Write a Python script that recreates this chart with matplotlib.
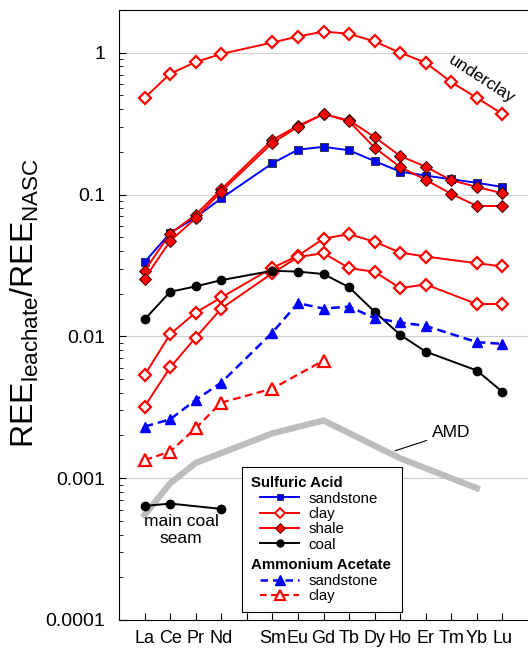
import matplotlib
matplotlib.use('Agg')
import matplotlib.pyplot as plt
from matplotlib.lines import Line2D
from matplotlib.offsetbox import DrawingArea

plt.rcParams['font.family'] = ['Liberation Sans', 'DejaVu Sans']
plt.rcParams['mathtext.fontset'] = 'custom'
plt.rcParams['mathtext.rm'] = 'Liberation Sans'

# Pm is not measured; None = no value, line is joined across the gap
elements = ['La', 'Ce', 'Pr', 'Nd', 'Pm', 'Sm', 'Eu', 'Gd', 'Tb', 'Dy', 'Ho', 'Er', 'Tm', 'Yb', 'Lu']

# sulfuric acid leachates
underclay = [0.48, 0.71, 0.86, 0.98, None, 1.18, 1.30, 1.41, 1.36, 1.20, 1.00, 0.85, 0.62, 0.48, 0.37]
sa_sandstone = [0.0334, 0.0535, 0.069, 0.094, None, 0.166, 0.207, 0.217, 0.205, 0.172, 0.145, 0.136, 0.128, 0.121, 0.113]
sa_clay1 = [0.00532, 0.01035, 0.0147, 0.0188, None, 0.0304, 0.037, 0.0488, 0.0526, 0.0464, 0.039, 0.0365, None, 0.0328, 0.0311]
sa_clay2 = [0.0032, 0.00603, 0.0098, 0.0157, None, 0.0279, 0.0362, 0.0386, 0.0303, 0.0285, 0.0219, 0.0232, None, 0.0169, 0.0169]
sa_shale1 = [0.029, 0.053, 0.072, 0.109, None, 0.243, 0.305, 0.369, 0.333, 0.254, 0.187, 0.157, 0.126, 0.113, 0.102]
sa_shale2 = [0.0255, 0.047, 0.068, 0.105, None, 0.231, 0.300, 0.370, 0.328, 0.214, 0.156, 0.127, 0.101, 0.083, 0.083]
sa_coal = [0.01315, 0.0206, 0.0225, 0.0249, None, 0.029, 0.0286, 0.0275, 0.0222, 0.0149, 0.01025, 0.0078, None, 0.00574, 0.00406]
main_seam = [0.000637, 0.000662, None, 0.000607, None, None, None, None, None, None, None, None, None, None, None]

# ammonium acetate leachates
aa_sandstone = [0.00231, 0.0026, 0.00356, 0.00472, None, 0.01064, 0.01714, 0.0157, 0.0162, 0.01343, 0.01252, 0.01186, None, 0.0091, 0.00885]
aa_clay = [0.00134, 0.00154, 0.00225, 0.00341, None, 0.00428, None, 0.00675, None, None, None, None, None, None, None]

# acid mine drainage
amd = [0.00055, 0.00092, 0.00128, None, None, 0.00207, None, 0.00255, None, None, 0.00138, None, None, 0.00085, None]


def pts(vals):
    x = [i for i, v in enumerate(vals) if v is not None]
    y = [v for v in vals if v is not None]
    return x, y


RED = '#ff0000'
BLUE = '#0000ff'

fig = plt.figure(figsize=(5.28, 6.49), dpi=100)
ax = fig.add_axes([0.2254, 0.0447, 0.7746, 0.9399])

ax.plot(*pts(amd), color='#bdbdbd', lw=4.5, solid_joinstyle='miter', zorder=1)

open_d = dict(marker='D', ms=6.5, mfc='white', mec=RED, mew=1.6, color=RED, lw=1.4)
ax.plot(*pts(underclay), **open_d)
ax.plot(*pts(sa_clay1), **open_d)
ax.plot(*pts(sa_clay2), **open_d)

ax.plot(*pts(sa_coal), color='black', lw=1.4, marker='o', ms=6)
ax.plot(*pts(main_seam), color='black', lw=1.4, marker='o', ms=6)

ax.plot(*pts(aa_sandstone), color=BLUE, lw=1.8, ls=(0, (3.5, 2)), marker='^', ms=7.5, mfc=BLUE, mec=BLUE)
ax.plot(*pts(aa_clay), color=RED, lw=1.6, ls=(0, (3.5, 2)), marker='^', ms=8, mfc='white', mec=RED, mew=1.6)

ax.plot(*pts(sa_sandstone), color=BLUE, lw=1.4, marker='s', ms=5.8, mfc=BLUE, mec='#222244', mew=0.6)
filled_d = dict(marker='D', ms=6.2, mfc=RED, mec='#330000', mew=0.7, color=RED, lw=1.4)
ax.plot(*pts(sa_shale1), **filled_d)
ax.plot(*pts(sa_shale2), **filled_d)

ax.set_yscale('log')
ax.set_ylim(1e-4, 2.0)
ax.set_xlim(-1, 15)
ax.set_yticks([1e-4, 1e-3, 1e-2, 1e-1, 1])
ax.set_yticklabels(['0.0001', '0.001', '0.01', '0.1', '1'])
ax.set_xticks(range(len(elements)))
ax.set_xticklabels(['' if e == 'Pm' else e for e in elements])
ax.tick_params(axis='both', which='major', direction='in', labelsize=14, length=5, width=0.8)
ax.tick_params(axis='x', labelsize=13)
ax.tick_params(axis='y', which='minor', direction='in', length=3, width=0.6)
ax.tick_params(axis='y', pad=10)
ax.tick_params(axis='x', pad=7)
ax.yaxis.grid(True, which='major', color='#cccccc', lw=0.8)
ax.set_axisbelow(True)
ax.spines['right'].set_visible(False)
for s in ['left', 'top', 'bottom']:
    ax.spines[s].set_linewidth(0.8)

ax.set_ylabel(r'REE$_{\mathrm{leachate}}$/REE$_{\mathrm{NASC}}$', fontsize=23)
ax.yaxis.set_label_coords(-0.19, 0.52)

ax.text(13.2, 0.645, 'underclay', fontsize=12.5, rotation=-33, ha='center', va='center')
ax.text(1.43, 0.00043, 'main coal\nseam', fontsize=12.5, ha='center', va='center', linespacing=1.2)
ax.annotate('AMD', xy=(9.8, 0.00156), xytext=(12.0, 0.0021), fontsize=12.5, ha='center', va='center',
            arrowprops=dict(arrowstyle='-', lw=0.8, color='black', shrinkA=2, shrinkB=0))

# legend with two bold group headings (and a thin spacer row before the second)
blank = Line2D([], [], ls='none')
handles = [
    blank,
    Line2D([], [], color=BLUE, lw=1.4, marker='s', ms=5, mfc=BLUE, mec='#222244', mew=0.6),
    Line2D([], [], color=RED, lw=1.4, marker='D', ms=5, mfc='white', mec=RED, mew=1.4),
    Line2D([], [], color=RED, lw=1.4, marker='D', ms=5, mfc=RED, mec='#330000', mew=0.6),
    Line2D([], [], color='black', lw=1.4, marker='o', ms=5),
    blank,
    blank,
    Line2D([], [], color=BLUE, lw=1.8, ls=(0, (3, 2)), marker='^', ms=6.5, mfc=BLUE, mec=BLUE),
    Line2D([], [], color=RED, lw=1.6, ls=(0, (3, 2)), marker='^', ms=6.5, mfc='white', mec=RED, mew=1.5),
]
labels = ['Sulfuric Acid', 'sandstone', 'clay', 'shale', 'coal', ' ', 'Ammonium Acetate', 'sandstone', 'clay']
leg = ax.legend(handles, labels, loc='upper left', bbox_to_anchor=(0.3007, 0.0508, 0.3912, 0.2),
                mode='expand', borderaxespad=0,
                fontsize=10.8, handlelength=2.6, handletextpad=0.6, labelspacing=0.09,
                fancybox=False, framealpha=1, edgecolor='black', borderpad=0.62)
leg.get_frame().set_linewidth(0.8)
col = leg._legend_handle_box.get_children()[0]
rows = col.get_children()
texts = leg.get_texts()
for i in (0, 6):
    texts[i].set_fontweight('bold')
    rows[i].get_children().pop(0)
texts[5].set_fontsize(2)
rows[5].get_children().pop(0)
for i in (1, 2, 3, 4, 7, 8):
    rows[i].get_children().insert(0, DrawingArea(0, 0))

plt.savefig('out.png', dpi=100)
